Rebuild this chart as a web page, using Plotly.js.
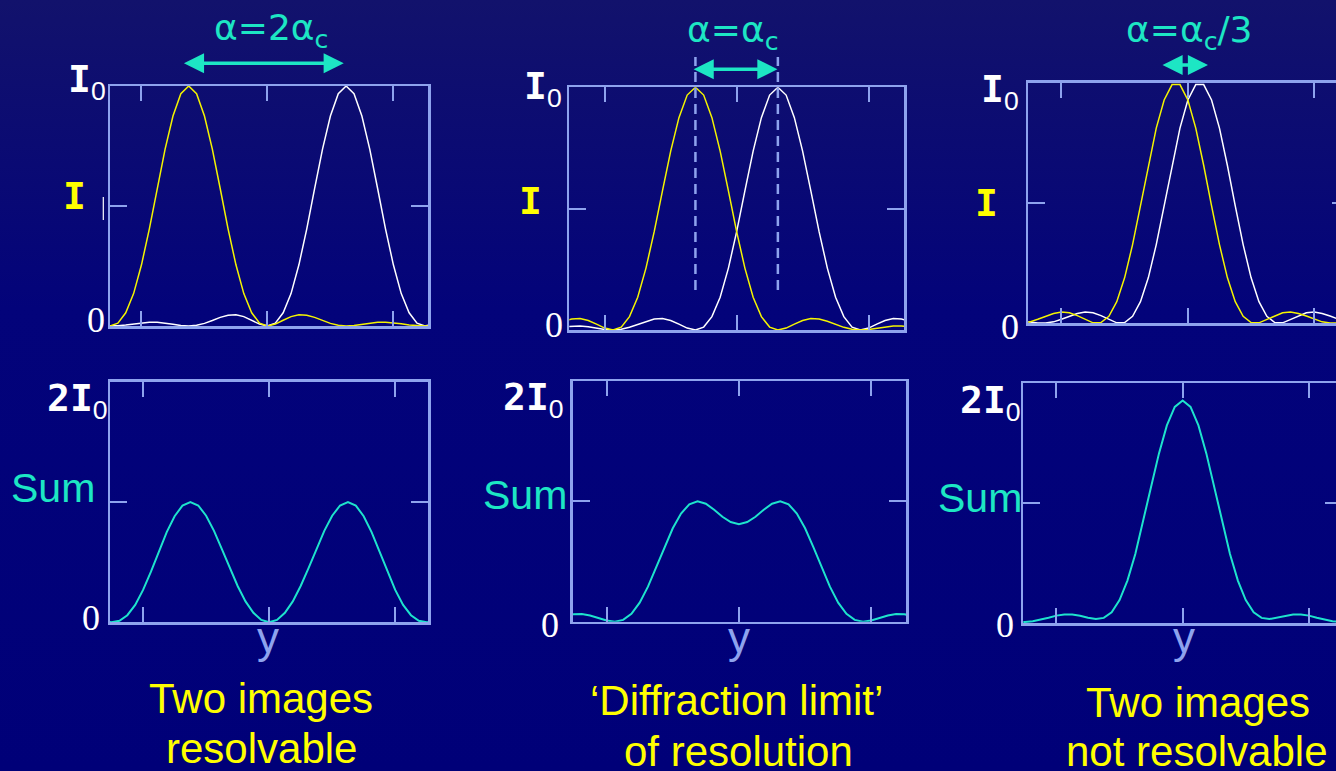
<!DOCTYPE html>
<html>
<head>
<meta charset="utf-8">
<script src="https://cdn.plot.ly/plotly-3.0.1.min.js"></script>
<style>
html, body { margin:0; padding:0; width:1336px; height:771px; overflow:hidden;
  background: linear-gradient(180deg, #12126c 0%, #03037a 40%, #000078 100%); }
#chart { width:1360px; height:771px; }
</style>
</head>
<body>
<div id="chart"></div>
<script>
// ---------- data (x in units of alpha_c) ----------
const y_pos = [-2.1,-2.0,-1.9,-1.8,-1.7,-1.6,-1.5,-1.4,-1.3,-1.2,-1.1,-1.0,-0.9,-0.8,-0.7,-0.6,-0.5,-0.4,-0.3,-0.2,-0.1,
  0,0.1,0.2,0.3,0.4,0.5,0.6,0.7,0.8,0.9,1.0,1.1,1.2,1.3,1.4,1.5,1.6,1.7,1.8,1.9,2.0,2.1];

// alpha = 2 alpha_c
const resolved_yellow = [0.008,0,0.012,0.055,0.135,0.255,0.405,0.573,0.737,0.875,0.968,1.000,0.968,0.875,0.737,0.573,0.405,0.255,0.135,0.055,0.012,
  0,0.008,0.024,0.039,0.047,0.045,0.036,0.023,0.011,0.003,0,0.002,0.007,0.013,0.016,0.016,0.014,0.009,0.004,0.001,0,0.001];
const resolved_white = [0.001,0,0.001,0.004,0.009,0.014,0.016,0.016,0.013,0.007,0.002,0,0.003,0.011,0.023,0.036,0.045,0.047,0.039,0.024,0.008,
  0,0.012,0.055,0.135,0.255,0.405,0.573,0.737,0.875,0.968,1.000,0.968,0.875,0.737,0.573,0.405,0.255,0.135,0.055,0.012,0,0.008];
const resolved_sum = [0.009,0,0.013,0.059,0.144,0.269,0.421,0.589,0.750,0.882,0.970,1.000,0.971,0.886,0.760,0.609,0.450,0.302,0.174,0.079,0.020,
  0,0.020,0.079,0.174,0.302,0.450,0.609,0.760,0.886,0.971,1.000,0.970,0.882,0.750,0.589,0.421,0.269,0.144,0.059,0.013,0,0.009];

// alpha = alpha_c
const limit_yellow = [0.036,0.045,0.047,0.039,0.024,0.008,0,0.012,0.055,0.135,0.255,0.405,0.573,0.737,0.875,0.968,1.000,0.968,0.875,0.737,0.573,
  0.405,0.255,0.135,0.055,0.012,0,0.008,0.024,0.039,0.047,0.045,0.036,0.023,0.011,0.003,0,0.002,0.007,0.013,0.016,0.016,0.014];
const limit_white = [0.014,0.016,0.016,0.013,0.007,0.002,0,0.003,0.011,0.023,0.036,0.045,0.047,0.039,0.024,0.008,0,0.012,0.055,0.135,0.255,
  0.405,0.573,0.737,0.875,0.968,1.000,0.968,0.875,0.737,0.573,0.405,0.255,0.135,0.055,0.012,0,0.008,0.024,0.039,0.047,0.045,0.036];
const limit_sum = [0.050,0.061,0.063,0.052,0.031,0.010,0,0.015,0.066,0.158,0.291,0.450,0.620,0.776,0.899,0.976,1.000,0.980,0.930,0.872,0.828,
  0.810,0.828,0.872,0.930,0.980,1.000,0.976,0.899,0.776,0.620,0.450,0.291,0.158,0.066,0.015,0,0.010,0.031,0.052,0.063,0.061,0.050];

// alpha = alpha_c / 3
const unresolved_yellow = [0.001,0.006,0.017,0.030,0.041,0.047,0.044,0.032,0.016,0.002,0.003,0.029,0.090,0.190,0.327,0.488,0.657,0.811,0.928,0.992,0.992,
  0.928,0.811,0.657,0.488,0.327,0.190,0.090,0.029,0.003,0.002,0.016,0.032,0.044,0.047,0.041,0.030,0.017,0.006,0.001,0.001,0.005,0.010];
const unresolved_white = [0.010,0.005,0.001,0.001,0.006,0.017,0.030,0.041,0.047,0.044,0.032,0.016,0.002,0.003,0.029,0.090,0.190,0.327,0.488,0.657,0.811,
  0.928,0.992,0.992,0.928,0.811,0.657,0.488,0.327,0.190,0.090,0.029,0.003,0.002,0.016,0.032,0.044,0.047,0.041,0.030,0.017,0.006,0.001];
const unresolved_sum = [0.011,0.011,0.018,0.031,0.047,0.064,0.074,0.073,0.063,0.046,0.035,0.045,0.092,0.193,0.356,0.578,0.847,1.138,1.416,1.649,1.803,
  1.856,1.803,1.649,1.416,1.138,0.847,0.578,0.356,0.193,0.092,0.045,0.035,0.046,0.063,0.073,0.074,0.064,0.047,0.031,0.018,0.011,0.011];

const x_ticks = [-1.6, 0, 1.6];
const separations = [1, 0.5, 0.15];   // half separation of the two images (alpha_c units)
const alpha_labels = ['α=2α<sub>c</sub>', 'α=α<sub>c</sub>', 'α=α<sub>c</sub>/3'];
const captions = [['Two images', 'resolvable'], ['‘Diffraction limit’', 'of resolution'], ['Two images', 'not resolvable']];

// ---------- styling ----------
const W = 1360, H = 771;
const LINE = '#8ea3ee';
const TURQ = '#1de6c4';
const SUMC = '#1ee3cc';
const YEL = '#f4f400';
const px = v => v / W;
const py = v => 1 - v / H;

// panel boxes in pixels [left,right],[top,bottom]
const panels = [
  {bx:[110,428],    by:[86,326],    xr:[-2.0,2.04],  ymax:1},
  {bx:[569.3,904],  by:[87.3,330],  xr:[-2.03,2.03], ymax:1},
  {bx:[1028.3,1349],by:[82.7,323.3],xr:[-2.02,2.04], ymax:1},
  {bx:[110,428.3],  by:[381.7,622.3],xr:[-2.02,2.02],ymax:2},
  {bx:[572.7,906],  by:[381,621.7], xr:[-2.01,2.02], ymax:2},
  {bx:[1023.3,1342],by:[383.3,623.3],xr:[-2.02,2.02],ymax:2}
];

const layout = {
  width: W, height: H,
  margin: {l:0, r:0, t:0, b:0, pad:0},
  paper_bgcolor: 'rgba(0,0,0,0)',
  plot_bgcolor: 'rgba(0,0,0,0)',
  showlegend: false,
  annotations: [],
  shapes: []
};

panels.forEach((p, i) => {
  const n = i === 0 ? '' : String(i + 1);
  layout['xaxis' + n] = {
    domain: [px(p.bx[0]), px(p.bx[1])], anchor: 'y' + n, range: p.xr,
    tickmode: 'array', tickvals: x_ticks, ticks: 'inside', ticklen: 15, tickwidth: 2, tickcolor: LINE,
    showline: true, linecolor: LINE, linewidth: 2.5, mirror: 'ticks',
    showgrid: false, zeroline: false, showticklabels: false, fixedrange: true
  };
  layout['yaxis' + n] = {
    domain: [py(p.by[1]), py(p.by[0])], anchor: 'x' + n, range: [0, p.ymax],
    tickmode: 'array', tickvals: [p.ymax / 2], ticks: 'inside', ticklen: 17, tickwidth: 2, tickcolor: LINE,
    showline: true, linecolor: LINE, linewidth: 2.5, mirror: 'ticks',
    showgrid: false, zeroline: false, showticklabels: false, fixedrange: true
  };
});

function tr(y, n, color, width) {
  return {type:'scatter', mode:'lines', x:y_pos, y:y, xaxis:'x' + n, yaxis:'y' + n,
          line:{color:color, width:width}, hoverinfo:'skip'};
}
const data = [
  tr(resolved_white, '', '#ffffff', 1.5), tr(resolved_yellow, '', YEL, 1.5),
  tr(limit_white, '2', '#ffffff', 1.5), tr(limit_yellow, '2', YEL, 1.5),
  tr(unresolved_white, '3', '#ffffff', 1.5), tr(unresolved_yellow, '3', YEL, 1.5),
  tr(resolved_sum, '4', SUMC, 2), tr(limit_sum, '5', SUMC, 2), tr(unresolved_sum, '6', SUMC, 2)
];

function label(text, x, y, font, xanchor) {
  return {xref:'paper', yref:'paper', x:px(x), y:py(y), text:text, showarrow:false,
          xanchor:xanchor || 'center', yanchor:'middle', font:font};
}
const monoW = {family:'DejaVu Sans Mono', size:38, color:'#ffffff', weight:'bold'};
const monoY = {family:'DejaVu Sans Mono', size:38, color:'#ffff00', weight:'bold'};
const serif0 = {family:'Liberation Serif', size:36, color:'#ffffff'};
const sumF = {family:'Liberation Sans', size:41, color:TURQ};
const yF = {family:'Liberation Sans', size:44, color:LINE};
const capF = {family:'Liberation Sans', size:42, color:'#ffff00'};
const alphaF = {family:'DejaVu Sans', size:36, color:TURQ};
const sub0 = '<sub><span style="font-family:\'Liberation Sans\';font-weight:normal">0</span></sub>';

const A = layout.annotations;
// top panels: I0, I, 0
[[108, 82], [564, 88], [1021, 91]].forEach(v => A.push(label('I' + sub0, v[0], v[1], monoW, 'right')));
[[74, 196.4], [530.5, 201.5], [986.7, 203.3]].forEach(v => A.push(label('I', v[0], v[1], monoY)));
[[96, 320], [553.9, 324.9], [1010, 327.3]].forEach(v => A.push(label('0', v[0], v[1], serif0)));
// bottom panels: 2I0, Sum, 0, y
[[110, 400], [566, 399.5], [1022.5, 402]].forEach(v => A.push(label('2I' + sub0, v[0], v[1], monoW, 'right')));
[[52.5, 488], [525, 494.7], [980, 497.5]].forEach(v => A.push(label('Sum', v[0], v[1], sumF)));
[[90.5, 618.3], [549.5, 625], [1005, 625]].forEach(v => A.push(label('0', v[0], v[1], serif0)));
[[268, 637], [739, 637], [1184, 637]].forEach(v => A.push(label('y', v[0], v[1], yF)));
// captions
const capPos = [[[260.5, 698.5], [261.5, 748.5]], [[736.5, 700.5], [739, 751]], [[1198.3, 702], [1197, 751]]];
captions.forEach((c, i) => c.forEach((t, j) => A.push(label(t, capPos[i][j][0], capPos[i][j][1], capF))));
// alpha labels
[[271, 30.7], [732, 32.7], [1189.7, 32.7]].forEach((v, i) => A.push(label(alpha_labels[i], v[0], v[1], alphaF)));

// double arrows between the two image centres
const arrowY = [63.3, 69.3, 65];
const arrowEnds = [[-1.08, 0.97], [-0.54, 0.495], [-0.34, 0.255]];
['x', 'x2', 'x3'].forEach((xa, i) => {
  A.push({xref:xa, yref:'paper', x:arrowEnds[i][1], y:py(arrowY[i]), axref:xa, ayref:'pixel',
          ax:arrowEnds[i][0], ay:0, text:'', showarrow:true, arrowside:'end+start',
          arrowhead:2, startarrowhead:2, arrowsize:1.15, startarrowsize:1.15,
          arrowwidth:3.5, arrowcolor:TURQ, standoff:0, startstandoff:0});
});

// dashed guide lines at the two image centres (diffraction-limit panel)
[-separations[1], separations[1]].forEach(c => {
  layout.shapes.push({type:'line', xref:'x2', yref:'y2 domain', x0:c, x1:c, y0:0.165, y1:1.125,
                      line:{color:LINE, width:2.5, dash:'10px,6px'}});
});
// small white mark left of the first panel
layout.shapes.push({type:'line', xref:'paper', yref:'paper', x0:px(103.3), x1:px(103.3), y0:py(197), y1:py(220),
                    line:{color:'#ffffff', width:1.2}});

Plotly.newPlot('chart', data, layout, {staticPlot:true, displayModeBar:false});
</script>
</body>
</html>
